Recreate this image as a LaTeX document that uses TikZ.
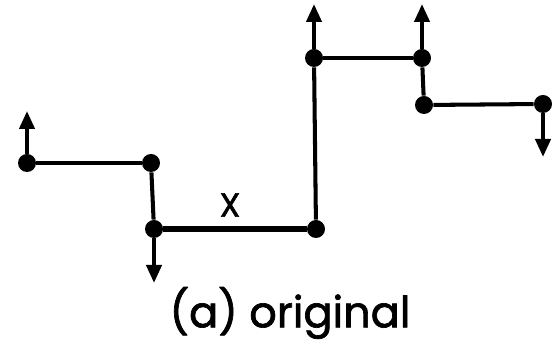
\documentclass[tikz,border=0pt]{standalone}
\usepackage{fontspec}
\setmainfont{Poppins}
\newfontfamily\labfont[BoldFont=Poppins,BoldFeatures={FakeBold=1.6}]{Poppins}
\usepackage{tikz}
\usetikzlibrary{arrows.meta,positioning}

\begin{document}
\begin{tikzpicture}[
  dot/.style={circle,fill=black,inner sep=0pt,minimum size=0.36cm},
  seg/.style={line width=2.3pt},
  heavy/.style={line width=3.6pt},
  vec/.style={line width=2.3pt,-{Triangle[length=0.36cm,width=0.3cm]}}
]
\useasboundingbox (0,0) rectangle (11.04,6.94);
\node[dot] (p1) at (0.54,3.68) {};
\node[dot] (p2) at (3.02,3.68) {};
\node[dot] (p3) at (3.08,2.36) {};
\node[dot] (p4) at (6.32,2.36) {};
\node[dot] (p5) at (6.28,5.78) {};
\node[dot] (p6) at (8.44,5.78) {};
\node[dot] (p7) at (8.48,4.84) {};
\node[dot] (p8) at (10.86,4.86) {};

\coordinate (t1) at (0.54,4.72);
\coordinate (t3) at (3.08,1.28);
\coordinate (t5) at (6.28,6.86);
\coordinate (t6) at (8.44,6.86);
\coordinate (t8) at (10.86,3.80);

\draw[seg] (p1)--(p2);
\draw[seg] (p2)--(p3);
\draw[heavy] (p3)--(p4);
\draw[seg] (p4)--(p5);
\draw[seg] (p5)--(p6);
\draw[seg] (p6)--(p7);
\draw[seg] (p7)--(p8);

\draw[vec] (p1)--(t1);
\draw[vec] (p3)--(t3);
\draw[vec] (p5)--(t5);
\draw[vec] (p6)--(t6);
\draw[vec] (p8)--(t8);

\node[font=\labfont\bfseries\fontsize{19}{22}\selectfont] (lx) at (4.6,2.84) {X};
\node[font=\labfont\bfseries\fontsize{24.5}{29}\selectfont] (cap) at (5.8,0.68) {(a) original};
\end{tikzpicture}
\end{document}
